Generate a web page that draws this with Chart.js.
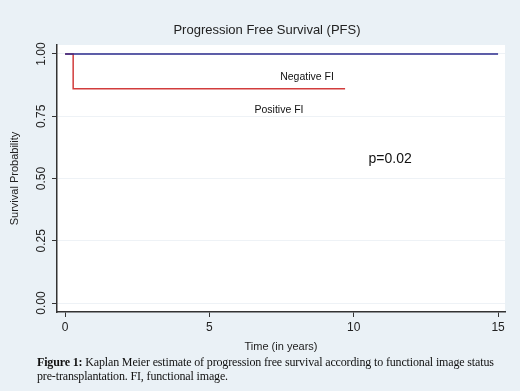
<!DOCTYPE html>
<html>
<head>
<meta charset="utf-8">
<script src="https://cdn.jsdelivr.net/npm/chart.js@4"></script>
<style>
  html, body { margin: 0; padding: 0; background: #eaf1f6; }
  #wrap { position: relative; width: 520px; height: 391px; }
  #caption {
    position: absolute; left: 37px; top: 355px; width: 470px;
    font-family: "Liberation Serif", "Times New Roman", serif;
    font-size: 12px; line-height: 14px; color: #111; letter-spacing: -0.15px;
  }
</style>
</head>
<body>
<div id="wrap">
  <canvas id="myChart" width="520" height="391"></canvas>
  <div id="caption"><b>Figure 1:</b> Kaplan Meier estimate of progression free survival according to functional image status pre-transplantation. FI, functional image.</div>
</div>
<script>
const chartTitle = "Progression Free Survival (PFS)";
const xTicks = [0, 5, 10, 15];
const yTicks = [0, 0.25, 0.5, 0.75, 1];

// Negative FI: no events over follow-up
const negTime = [0, 15];
const negSurv = [1, 1];
// Positive FI: one early event
const posTime = [0, 0.28, 9.7];
const posSurv = [1, 0.86, 0.86];

const noteText = ["Negative FI", "Positive FI", "p=0.02"];
const noteX = [8.38, 7.41, 11.26];
const noteY = [0.908, 0.775, 0.578];

const fontFamily = "'Liberation Sans', Arial, sans-serif";
const toPoints = (xs, ys) => xs.map((x, i) => ({ x: x, y: ys[i] }));

const plotBackground = {
    id: "plotBackground",
    beforeDraw(chart) {
        const a = chart.chartArea;
        const ctx = chart.ctx;
        ctx.save();
        ctx.fillStyle = "#ffffff";
        ctx.fillRect(a.left, a.top, a.right - a.left, a.bottom - a.top);
        ctx.restore();
    }
};

const notes = {
    id: "notes",
    afterDraw(chart) {
        const ctx = chart.ctx;
        const xs = chart.scales.x, ys = chart.scales.y;
        ctx.save();
        ctx.fillStyle = "#111";
        ctx.textAlign = "center";
        ctx.textBaseline = "middle";
        noteText.forEach((t, i) => {
            ctx.font = (i === 2 ? "14px " : "10.5px ") + fontFamily;
            ctx.fillText(t, xs.getPixelForValue(noteX[i]), ys.getPixelForValue(noteY[i]));
        });
        // y tick labels, turned to read upwards and centred on their ticks
        ctx.font = "12px " + fontFamily;
        ctx.fillStyle = "#222";
        yTicks.forEach((v) => {
            ctx.save();
            ctx.translate(42, ys.getPixelForValue(v));
            ctx.rotate(-Math.PI / 2);
            ctx.fillText(v.toFixed(2), 0, 0);
            ctx.restore();
        });
        // title
        ctx.font = "13px " + fontFamily;
        ctx.fillText(chartTitle, 267, 30);
        ctx.restore();
    }
};

const ctx = document.getElementById("myChart");

new Chart(ctx, {
    type: "scatter",
    data: {
        datasets: [{
            label: "Negative FI",
            data: toPoints(negTime, negSurv),
            showLine: true,
            borderColor: "#2a2a8c",
            borderWidth: 1.5,
            pointRadius: 0,
            stepped: true
        }, {
            label: "Positive FI",
            data: toPoints(posTime, posSurv),
            showLine: true,
            borderColor: "#d23c3c",
            borderWidth: 1.5,
            pointRadius: 0,
            stepped: true
        }]
    },
    plugins: [plotBackground, notes],
    options: {
        responsive: false,
        animation: false,
        layout: { padding: { top: 45, left: 0, right: 15, bottom: 34 } },
        plugins: {
            legend: { display: false },
            tooltip: { enabled: false }
        },
        scales: {
            x: {
                type: "linear",
                min: -0.28,
                max: 15.24,
                afterBuildTicks: (scale) => { scale.ticks = xTicks.map((v) => ({ value: v })); },
                afterFit: (scale) => { scale.height = 45; },
                ticks: {
                    color: "#222",
                    padding: 3,
                    font: { size: 12, family: fontFamily }
                },
                grid: { drawOnChartArea: false, tickLength: 5, tickColor: "#333", color: "#333" },
                border: { color: "#333", width: 1.5 },
                title: {
                    display: true,
                    text: "Time (in years)",
                    color: "#222",
                    padding: { top: 0, bottom: 3 },
                    font: { size: 11, family: fontFamily }
                }
            },
            y: {
                type: "linear",
                min: -0.036,
                max: 1.036,
                afterBuildTicks: (scale) => { scale.ticks = yTicks.map((v) => ({ value: v })); },
                afterFit: (scale) => { scale.width = 57; },
                ticks: { display: false },
                grid: { drawOnChartArea: true, tickLength: 5, tickColor: "#333", color: "#eef2f6" },
                border: { color: "#333", width: 1.5 },
                title: {
                    display: true,
                    text: "Survival Probability",
                    color: "#222",
                    padding: { top: 8, bottom: 0 },
                    font: { size: 11, family: fontFamily }
                }
            }
        }
    }
});
</script>
</body>
</html>
